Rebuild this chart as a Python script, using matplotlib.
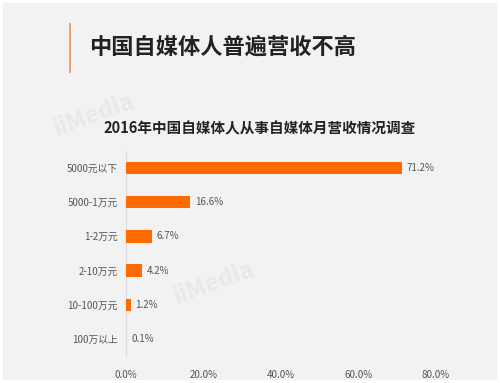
import matplotlib
matplotlib.use('Agg')
import matplotlib.pyplot as plt
from matplotlib.patches import Rectangle

plt.rcParams['font.family'] = ['Noto Sans CJK SC', 'DejaVu Sans']

categories = ['5000元以下', '5000-1万元', '1-2万元', '2-10万元', '10-100万元', '100万以上']
values = [71.2, 16.6, 6.7, 4.2, 1.2, 0.1]
xticks = [0, 20, 40, 60, 80]

BG = '#f2f2f2'
ORANGE = '#ff6a00'
TEXT = '#555555'

fig = plt.figure(figsize=(5, 3.83), dpi=100, facecolor='white')
fig.patches.append(Rectangle((0.006, 0.008), 0.988, 0.984, transform=fig.transFigure,
                             facecolor=BG, edgecolor='none', zorder=-10))

# heading with orange accent bar
fig.patches.append(Rectangle((0.138, 0.81), 0.004, 0.13, transform=fig.transFigure,
                             facecolor='#f0a070', edgecolor='none'))
fig.text(0.178, 0.877, '中国自媒体人普遍营收不高', fontsize=16, fontweight='bold',
         color='#222222', va='center', ha='left')
fig.text(0.52, 0.665, '2016年中国自媒体人从事自媒体月营收情况调查', fontsize=10.5,
         fontweight='bold', color='#222222', va='center', ha='center')

# faint watermarks
fig.text(0.10, 0.70, 'iiMedia', fontsize=17, color='#e9e9e9', rotation=20,
         fontweight='bold', ha='left', va='center', zorder=-5)
fig.text(0.34, 0.26, 'iiMedia', fontsize=17, color='#e9e9e9', rotation=20,
         fontweight='bold', ha='left', va='center', zorder=-5)

ax = fig.add_axes([0.252, 0.0705, 0.62, 0.5355])
ax.set_facecolor('none')
y = list(range(len(categories)))
ax.barh(y, values, height=0.36, color=ORANGE, zorder=3)
for yi, v in zip(y, values):
    ax.text(v + 1.2, yi, f'{v:.1f}%', va='center', ha='left', fontsize=7, color=TEXT)

ax.set_xlim(0, 80)
ax.set_ylim(len(categories) - 0.5, -0.5)
ax.set_yticks(y)
ax.set_yticklabels(categories, fontsize=7, color=TEXT)
ax.set_xticks(xticks)
ax.set_xticklabels([f'{t:.1f}%' for t in xticks], fontsize=7, color=TEXT)
ax.tick_params(length=0, pad=6)
ax.tick_params(axis='x', pad=10)
for name, sp in ax.spines.items():
    sp.set_visible(name == 'left')
ax.spines['left'].set_color('#dcdcdc')

fig.savefig('out.png', dpi=100, facecolor='white')
